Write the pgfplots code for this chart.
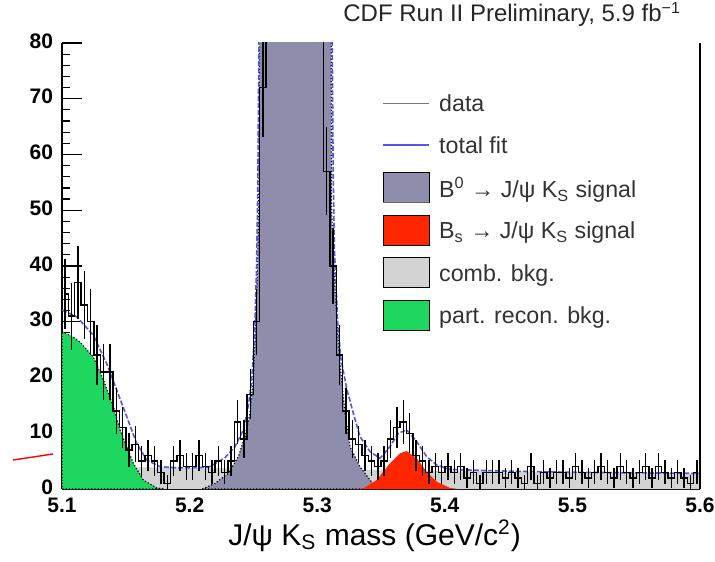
\documentclass[border=0pt]{standalone}
\usepackage{fontspec}
\setmainfont{Liberation Sans}
\usepackage{pgfplots}
\usepackage{pgfplotstable}
\pgfplotsset{compat=1.18}
\definecolor{combgray}{RGB}{211,211,211}
\definecolor{prgreen}{RGB}{30,215,95}
\definecolor{bzpurple}{RGB}{142,142,172}
\definecolor{bsred}{RGB}{255,38,0}
\definecolor{fitblue}{RGB}{85,85,235}
\definecolor{datagray}{RGB}{120,120,120}

% data: bin centre, entries, error
\pgfplotstableread{
c n e
5.1025 35 5.9
5.1075 31 5.6
5.1125 37 6.1
5.1175 33 5.7
5.1225 30 5.5
5.1275 24 4.9
5.1325 21 4.6
5.1375 21 4.6
5.1425 14 3.7
5.1475 11 3.3
5.1525 7 2.6
5.1575 8 2.8
5.1625 5 2.2
5.1675 6 2.4
5.1725 5 2.2
5.1775 3 1.7
5.1825 1 1.0
5.1875 5 2.2
5.1925 6 2.4
5.1975 4 2.0
5.2025 4 2.0
5.2075 6 2.4
5.2125 4 2.0
5.2175 3 1.7
5.2225 5 2.2
5.2275 3 1.7
5.2325 5 2.2
5.2375 12 3.5
5.2425 9 3.0
5.2475 17 4.1
5.2525 30 5.5
5.2575 72 8.5
5.2625 130 11.4
5.2675 210 14.5
5.2725 270 16.4
5.2775 300 17.3
5.2825 290 17.0
5.2875 240 15.5
5.2925 180 13.4
5.2975 130 11.4
5.3025 92 9.6
5.3075 57 7.5
5.3125 40 6.3
5.3175 24 4.9
5.3225 14 3.7
5.3275 9 3.0
5.3325 8 2.8
5.3375 6 2.4
5.3425 5 2.2
5.3475 4 2.0
5.3525 5 2.2
5.3575 9 3.0
5.3625 11 3.3
5.3675 12 3.5
5.3725 10 3.2
5.3775 6 2.4
5.3825 5 2.2
5.3875 3 1.7
5.3925 4 2.0
5.3975 3 1.7
5.4025 4 2.0
5.4075 3 1.7
5.4125 4 2.0
5.4175 2 1.4
5.4225 3 1.7
5.4275 1 1.0
5.4325 3 1.7
5.4375 3 1.7
5.4425 3 1.7
5.4475 2 1.4
5.4525 3 1.7
5.4575 2 1.4
5.4625 1 1.0
5.4675 4 2.0
5.4725 1 1.0
5.4775 3 1.7
5.4825 2 1.4
5.4875 3 1.7
5.4925 3 1.7
5.4975 2 1.4
5.5025 4 2.0
5.5075 3 1.7
5.5125 2 1.4
5.5175 3 1.7
5.5225 4 2.0
5.5275 3 1.7
5.5325 2 1.4
5.5375 4 2.0
5.5425 3 1.7
5.5475 2 1.4
5.5525 3 1.7
5.5575 4 2.0
5.5625 2 1.4
5.5675 4 2.0
5.5725 3 1.7
5.5775 2 1.4
5.5825 3 1.7
5.5875 2 1.4
5.5925 1 1.0
5.5975 3 1.7
}\datatab

\pgfplotsset{
  mylineleg/.style={legend image code/.code={
    \path[draw=none, fill=none] (0pt,-7.5pt) rectangle (23pt,7.5pt);
    \draw[##1] (0pt,0pt) -- (23pt,0pt);}},
  myboxleg/.style={legend image code/.code={
    \fill[##1] (0pt,-7.5pt) rectangle (23pt,7.5pt);}},
  mybzleg/.style={legend image code/.code={
    \fill[##1] (0pt,-7.5pt) rectangle (23pt,7.5pt);
    \draw[black, line width=0.9pt] (0pt,7.5pt) -- (23pt,7.5pt);
    \draw[black!60, line width=0.9pt] (0pt,-7.5pt) -- (23pt,-7.5pt);}},
}

\begin{document}
\begin{tikzpicture}
\useasboundingbox (-31pt,-36pt) rectangle (326.5pt,244.5pt);
\begin{axis}[
  scale only axis,
  width=319pt, height=223pt,
  xmin=5.1, xmax=5.6, ymin=0, ymax=80,
  axis x line*=bottom, axis y line*=left,
  axis line style={line width=0.8pt, black},
  xtick={5.1,5.2,5.3,5.4,5.5,5.6},
  ytick={0,10,20,30,40,50,60,70,80},
  minor x tick num=4, minor y tick num=4,
  tick align=inside,
  major tick length=10pt, minor tick length=4pt,
  tick style={black, line width=0.6pt},
  x tick label style={/pgf/number format/fixed, /pgf/number format/fixed zerofill, /pgf/number format/precision=1, yshift=-1pt},
  tick label style={font=\fontsize{10.5}{12}\selectfont\bfseries, /pgf/number format/assume math mode=true},
  y tick label style={xshift=-1pt, yshift=1pt},
  xlabel={J/ψ K\textsubscript{S} mass (GeV/c\textsuperscript{2})},
  xlabel style={font=\fontsize{15}{17}\selectfont, at={(axis description cs:0.49,0)}, anchor=base, yshift=-28pt},
  clip=true,
  legend cell align=left,
  legend style={draw=none, fill=none, at={(rel axis cs:0.5016,0.899)}, anchor=north west,
    font=\fontsize{11.6}{13}\selectfont, text=black!80, row sep=5.8pt, inner sep=0pt,
    nodes={inner sep=0pt, text depth=0pt},
    /tikz/every odd column/.append style={column sep=4.5pt}},
]
% legend images
\addlegendimage{mylineleg, datagray, line width=0.8pt}
\addlegendentry{data}
\addlegendimage{mylineleg, fitblue, line width=0.8pt}
\addlegendentry{total fit}
\addlegendimage{mybzleg, fill=bzpurple}
\addlegendentry{B\textsuperscript{0} → J/ψ K\textsubscript{S} signal}
\addlegendimage{myboxleg, fill=bsred}
\addlegendentry{B\textsubscript{s} → J/ψ K\textsubscript{S} signal}
\addlegendimage{myboxleg, fill=combgray}
\addlegendentry{comb. bkg.}
\addlegendimage{myboxleg, fill=prgreen}
\addlegendentry{part. recon. bkg.}

% combinatorial background
\addplot[forget plot, fill=combgray, draw=none] coordinates {
(5.1,4.0) (5.2,3.8) (5.3,3.5) (5.4,3.3) (5.5,3.0) (5.6,2.8)} \closedcycle;
% partially reconstructed background
\addplot[forget plot, fill=prgreen, draw=black, densely dotted, line width=0.6pt] coordinates {
(5.1,28.2) (5.107,27.5) (5.114,26.4) (5.1245,23.7) (5.1324,19.6) (5.1402,14.8) (5.1455,10.6)
(5.1507,7.6) (5.1559,4.6) (5.1637,1.6) (5.1742,0.2) (5.18,0)} \closedcycle;
% B0 signal
\addplot[forget plot, fill=bzpurple, draw=black, densely dotted, line width=0.6pt] coordinates {
(5.21,0) (5.2199,1) (5.2303,2.8) (5.2382,5.8) (5.2434,9.4) (5.2473,13.6) (5.2499,19.6)
(5.2515,28) (5.253,38) (5.2542,50) (5.2548,80) (5.255,110) (5.3105,110) (5.311,80)
(5.3113,50) (5.3135,38) (5.3155,30) (5.3178,22.6) (5.3218,13.6) (5.3257,7.6)
(5.3335,4.0) (5.3414,1.6) (5.3466,0.2) (5.35,0)} \closedcycle;
% Bs signal
\addplot[forget plot, fill=bsred, draw=none] coordinates {
(5.33,0) (5.3361,0.1) (5.3466,1.6) (5.357,4.6) (5.3649,6.4) (5.3701,6.8) (5.378,5.5)
(5.3858,3.1) (5.3937,1.3) (5.4041,0.2) (5.41,0)} \closedcycle;
% total fit
\addplot[forget plot, fitblue, line width=0.8pt, dash pattern=on 2.5pt off 1pt] coordinates {
(5.100,32.1) (5.1115,30.9) (5.1245,27.6) (5.135,22.5) (5.1428,17.8) (5.1507,13.0)
(5.1585,8.2) (5.1664,5.2) (5.1768,4.0) (5.19,3.8) (5.20,3.8) (5.215,3.9) (5.2277,5.6)
(5.2356,7.6) (5.2421,10.6) (5.246,14.8) (5.2487,19.6) (5.251,28) (5.2525,40) (5.2535,55)
(5.2543,80) (5.2548,110) (5.311,110) (5.3118,80) (5.3125,57) (5.3135,43) (5.316,30)
(5.3185,23.5) (5.3231,18) (5.3283,13.6) (5.3335,9.4) (5.3414,6.7) (5.3492,5.5)
(5.357,7.6) (5.3636,10.0) (5.3701,10.6) (5.378,8.5) (5.3858,5.8) (5.3937,4.3)
(5.4041,3.5) (5.45,3.2) (5.5,3.0) (5.55,2.9) (5.6,2.8)};
% data histogram with error bars
\addplot[forget plot, black, line width=0.7pt, const plot mark mid, mark=none,
  error bars/.cd, y dir=both, y explicit,
  error bar style={black, line width=0.7pt}, error mark=-,
  error mark options={black, mark size=1.2pt, line width=0.7pt}]
  table[x=c, y=n, y error=e] {\datatab};
\end{axis}
\draw[black, line width=0.8pt] (319pt,0pt) -- (319pt,223pt);
\node[anchor=base east, font=\fontsize{12}{14}\selectfont, text=black!85] at (313pt,233.5pt)
  {CDF Run II Preliminary, 5.9 fb\textsuperscript{−1}};
\draw[red, line width=0.7pt] (-24.5pt,14.5pt) -- (-4.5pt,17.5pt);
\end{tikzpicture}
\end{document}
